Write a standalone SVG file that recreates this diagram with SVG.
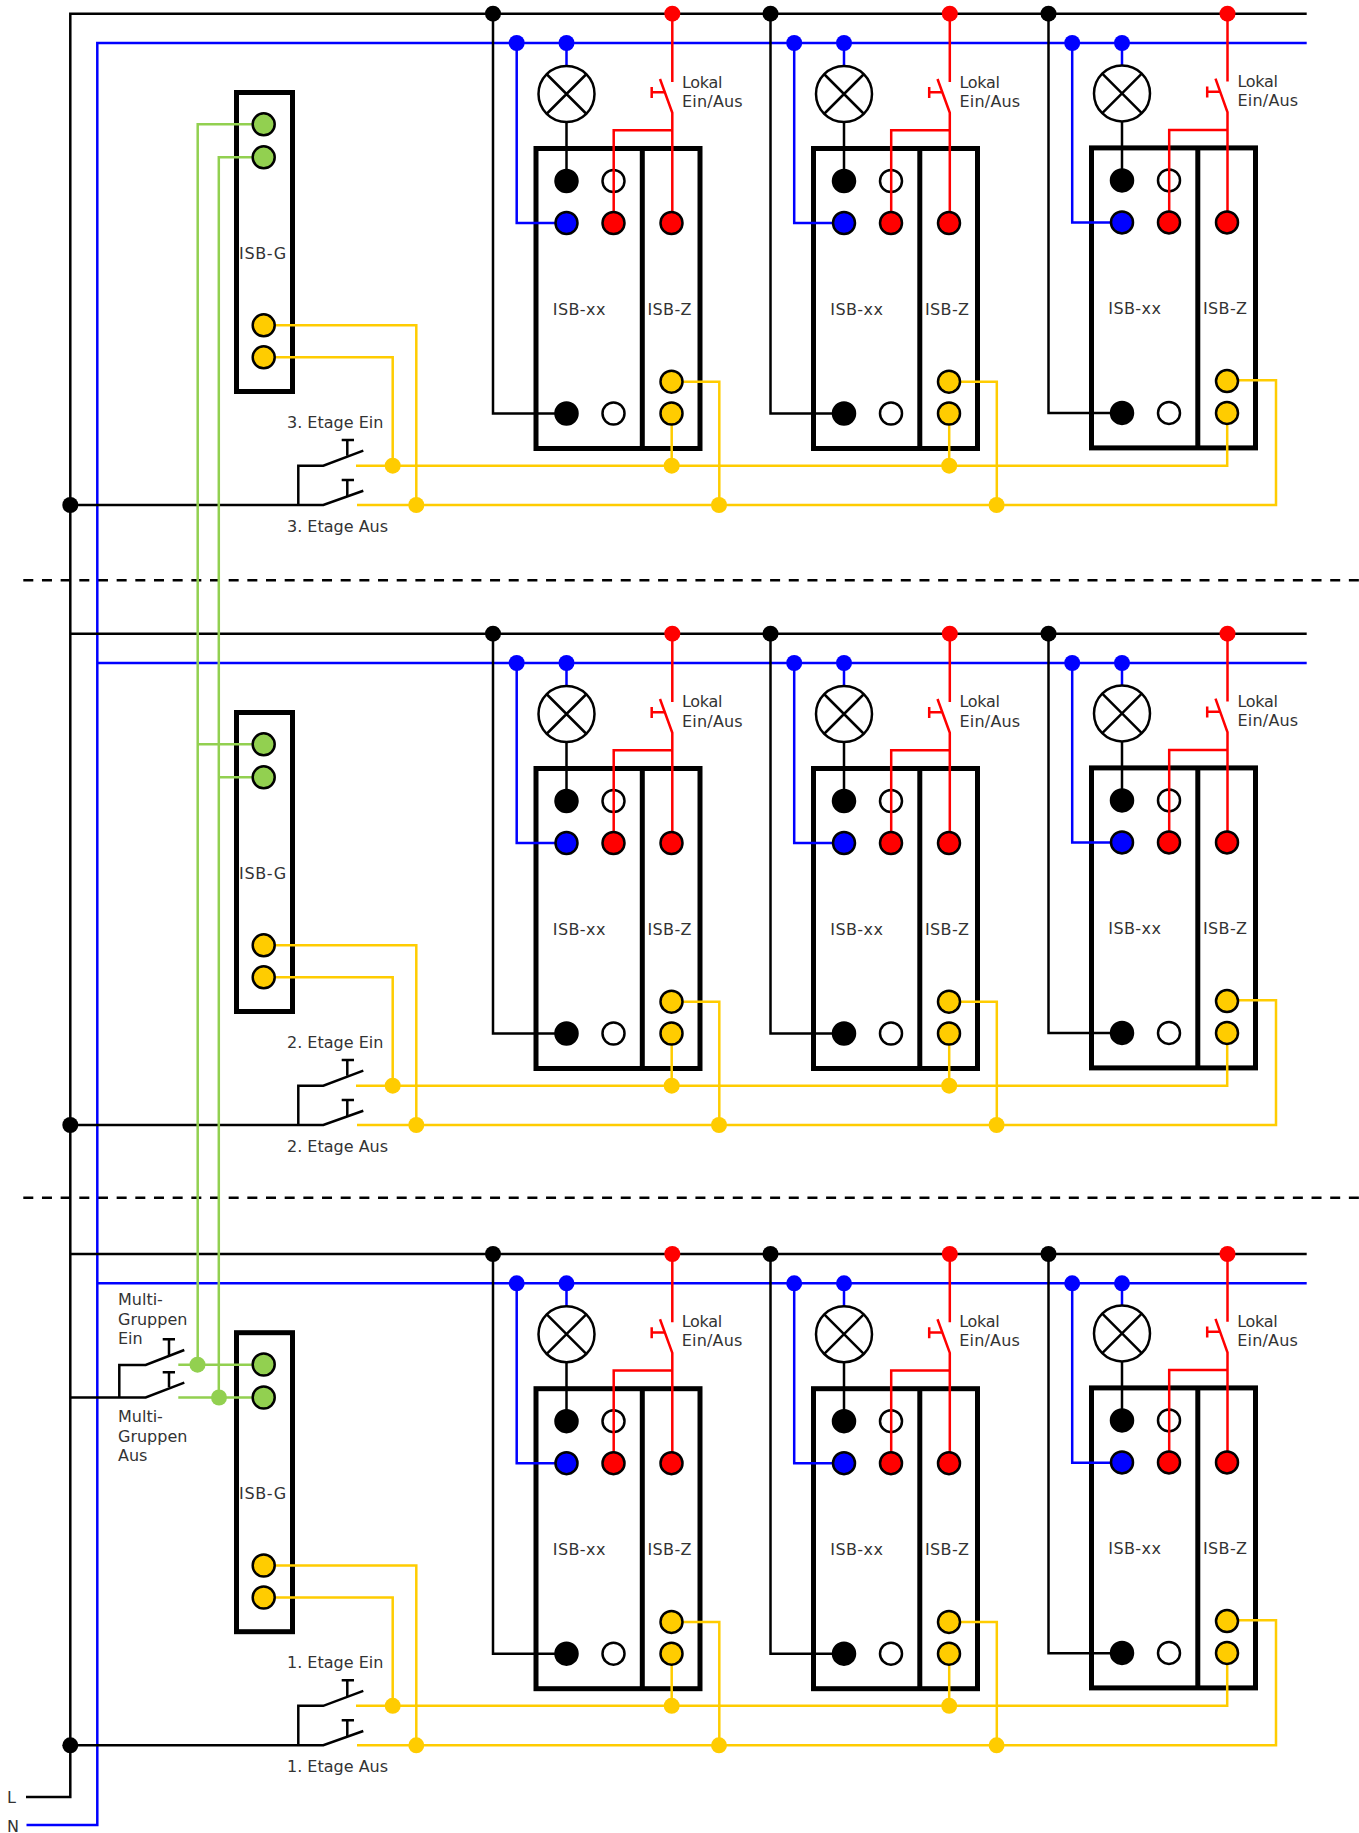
<svg xmlns="http://www.w3.org/2000/svg" width="1359" height="1833" viewBox="0 0 1359 1833">
<style>
text{font-family:"DejaVu Sans",sans-serif;font-size:16px;fill:#333}
.m{text-anchor:middle;letter-spacing:.4px}
.ig{letter-spacing:.65px}
.lo{letter-spacing:-.3px}
.ea{letter-spacing:.2px}
.box{fill:#fff;stroke:#000;stroke-width:5}
.w{fill:none;stroke-width:2.5}
.k{stroke:#000}.b{stroke:#00f}.r{stroke:#f00}.y{stroke:#fc0}.g{stroke:#92d050}
.t{stroke:#000;stroke-width:2.5}
.fk{fill:#000}.fb{fill:#00f}.fr{fill:#f00}.fy{fill:#fc0}.fg{fill:#92d050}.fw{fill:#fff}
.lamp{fill:#fff;stroke:#000;stroke-width:2.5}
.dash{fill:none;stroke:#000;stroke-width:2.5;stroke-dasharray:10 8.67}
</style>
<g id="modules">
<g id="isbg-1" transform="translate(0,0)"><rect class="box" x="236.5" y="92.5" width="56" height="299"/><text class="m ig" x="263" y="259">ISB-G</text></g>
<g id="isbg-2" transform="translate(0,620)"><rect class="box" x="236.5" y="92.5" width="56" height="299"/><text class="m ig" x="263" y="259">ISB-G</text></g>
<g id="isbg-3" transform="translate(0,1240.2)"><rect class="box" x="236.5" y="92.5" width="56" height="299"/><text class="m ig" x="263" y="259">ISB-G</text></g>
<g id="isb-r1c1" transform="translate(0,0)"><rect class="box" x="536" y="148.5" width="164" height="300"/><path class="box" d="M642.3 148.5V448.5"/><text class="m" x="579.3" y="315">ISB-xx</text><text class="m" x="669.7" y="315">ISB-Z</text><circle class="t fw" cx="613.5" cy="181" r="11"/><circle class="t fw" cx="613.5" cy="413.5" r="11"/></g>
<g id="isb-r1c2" transform="translate(277.5,0)"><rect class="box" x="536" y="148.5" width="164" height="300"/><path class="box" d="M642.3 148.5V448.5"/><text class="m" x="579.3" y="315">ISB-xx</text><text class="m" x="669.7" y="315">ISB-Z</text><circle class="t fw" cx="613.5" cy="181" r="11"/><circle class="t fw" cx="613.5" cy="413.5" r="11"/></g>
<g id="isb-r1c3" transform="translate(555.5,-0.6)"><rect class="box" x="536" y="148.5" width="164" height="300"/><path class="box" d="M642.3 148.5V448.5"/><text class="m" x="579.3" y="315">ISB-xx</text><text class="m" x="669.7" y="315">ISB-Z</text><circle class="t fw" cx="613.5" cy="181" r="11"/><circle class="t fw" cx="613.5" cy="413.5" r="11"/></g>
<g id="isb-r2c1" transform="translate(0,620)"><rect class="box" x="536" y="148.5" width="164" height="300"/><path class="box" d="M642.3 148.5V448.5"/><text class="m" x="579.3" y="315">ISB-xx</text><text class="m" x="669.7" y="315">ISB-Z</text><circle class="t fw" cx="613.5" cy="181" r="11"/><circle class="t fw" cx="613.5" cy="413.5" r="11"/></g>
<g id="isb-r2c2" transform="translate(277.5,620)"><rect class="box" x="536" y="148.5" width="164" height="300"/><path class="box" d="M642.3 148.5V448.5"/><text class="m" x="579.3" y="315">ISB-xx</text><text class="m" x="669.7" y="315">ISB-Z</text><circle class="t fw" cx="613.5" cy="181" r="11"/><circle class="t fw" cx="613.5" cy="413.5" r="11"/></g>
<g id="isb-r2c3" transform="translate(555.5,619.4)"><rect class="box" x="536" y="148.5" width="164" height="300"/><path class="box" d="M642.3 148.5V448.5"/><text class="m" x="579.3" y="315">ISB-xx</text><text class="m" x="669.7" y="315">ISB-Z</text><circle class="t fw" cx="613.5" cy="181" r="11"/><circle class="t fw" cx="613.5" cy="413.5" r="11"/></g>
<g id="isb-r3c1" transform="translate(0,1240.2)"><rect class="box" x="536" y="148.5" width="164" height="300"/><path class="box" d="M642.3 148.5V448.5"/><text class="m" x="579.3" y="315">ISB-xx</text><text class="m" x="669.7" y="315">ISB-Z</text><circle class="t fw" cx="613.5" cy="181" r="11"/><circle class="t fw" cx="613.5" cy="413.5" r="11"/></g>
<g id="isb-r3c2" transform="translate(277.5,1240.2)"><rect class="box" x="536" y="148.5" width="164" height="300"/><path class="box" d="M642.3 148.5V448.5"/><text class="m" x="579.3" y="315">ISB-xx</text><text class="m" x="669.7" y="315">ISB-Z</text><circle class="t fw" cx="613.5" cy="181" r="11"/><circle class="t fw" cx="613.5" cy="413.5" r="11"/></g>
<g id="isb-r3c3" transform="translate(555.5,1239.4)"><rect class="box" x="536" y="148.5" width="164" height="300"/><path class="box" d="M642.3 148.5V448.5"/><text class="m" x="579.3" y="315">ISB-xx</text><text class="m" x="669.7" y="315">ISB-Z</text><circle class="t fw" cx="613.5" cy="181" r="11"/><circle class="t fw" cx="613.5" cy="413.5" r="11"/></g>
</g>
<g id="separators"><path class="dash" d="M23.3 580.3H1359"/><path class="dash" d="M23.3 1197.7H1359"/></g>
<g id="connectors">
<path class="w b" d="M26.5 1825H97.3V43H1306.7M97.3 663H1306.7M97.3 1283.3H1306.7"/>
<path class="w k" d="M26 1797H70.3V13.7H1306.7M70.3 633.7H1306.7M70.3 1254H1306.7M70.3 505H323.3L363.3 490.7M298.3 505V465.7H323.3L363.3 450.7M70.3 1125H323.3L363.3 1110.7M298.3 1125V1085.7H323.3L363.3 1070.7M70.3 1745.3H323.3L363.3 1731M298.3 1745.3V1705.8H323.3L363.3 1690.8M70.3 1397.5H145.7L184.3 1382.7M119.3 1397.5V1365H145.7L184.3 1350"/>
<g id="wires-r1c1"><path class="w k" d="M493 13.7V413.5H566.5M566.5 122V181"/><path class="w b" d="M516.7 43V223H566.5M566.5 43V66"/><path class="w r" d="M672.3 13.7V82M660 79L672.3 112.7V223M672.3 130.3H613.7V223"/><path class="w y" d="M671.7 413.5V465.7M671.7 381.7H719.3V505"/></g>
<g id="wires-r1c2" transform="translate(277.5,0)"><path class="w k" d="M493 13.7V413.5H566.5M566.5 122V181"/><path class="w b" d="M516.7 43V223H566.5M566.5 43V66"/><path class="w r" d="M672.3 13.7V82M660 79L672.3 112.7V223M672.3 130.3H613.7V223"/><path class="w y" d="M671.7 413.5V465.7M671.7 381.7H719.3V505"/></g>
<g id="wires-r1c3" transform="translate(555.5,-0.4)"><path class="w k" d="M493 14.1V413.5H566.5M566.5 122V181"/><path class="w b" d="M516.7 43.4V223H566.5M566.5 43.4V66"/><path class="w r" d="M672 14.1V82M660 79L672 112.7V223M672 130.3H613.7V223"/></g>
<g id="wires-r2c1" transform="translate(0,620)"><path class="w k" d="M493 13.7V413.5H566.5M566.5 122V181"/><path class="w b" d="M516.7 43V223H566.5M566.5 43V66"/><path class="w r" d="M672.3 13.7V82M660 79L672.3 112.7V223M672.3 130.3H613.7V223"/><path class="w y" d="M671.7 413.5V465.7M671.7 381.7H719.3V505"/></g>
<g id="wires-r2c2" transform="translate(277.5,620)"><path class="w k" d="M493 13.7V413.5H566.5M566.5 122V181"/><path class="w b" d="M516.7 43V223H566.5M566.5 43V66"/><path class="w r" d="M672.3 13.7V82M660 79L672.3 112.7V223M672.3 130.3H613.7V223"/><path class="w y" d="M671.7 413.5V465.7M671.7 381.7H719.3V505"/></g>
<g id="wires-r2c3" transform="translate(555.5,619.6)"><path class="w k" d="M493 14.1V413.5H566.5M566.5 122V181"/><path class="w b" d="M516.7 43.4V223H566.5M566.5 43.4V66"/><path class="w r" d="M672 14.1V82M660 79L672 112.7V223M672 130.3H613.7V223"/></g>
<g id="wires-r3c1" transform="translate(0,1240.2)"><path class="w k" d="M493 13.7V413.5H566.5M566.5 122V181"/><path class="w b" d="M516.7 43V223H566.5M566.5 43V66"/><path class="w r" d="M672.3 13.7V82M660 79L672.3 112.7V223M672.3 130.3H613.7V223"/><path class="w y" d="M671.7 413.5V465.7M671.7 381.7H719.3V505"/></g>
<g id="wires-r3c2" transform="translate(277.5,1240.2)"><path class="w k" d="M493 13.7V413.5H566.5M566.5 122V181"/><path class="w b" d="M516.7 43V223H566.5M566.5 43V66"/><path class="w r" d="M672.3 13.7V82M660 79L672.3 112.7V223M672.3 130.3H613.7V223"/><path class="w y" d="M671.7 413.5V465.7M671.7 381.7H719.3V505"/></g>
<g id="wires-r3c3" transform="translate(555.5,1239.8)"><path class="w k" d="M493 14.1V413.5H566.5M566.5 122V181"/><path class="w b" d="M516.7 43.4V223H566.5M566.5 43.4V66"/><path class="w r" d="M672 14.1V82M660 79L672 112.7V223M672 130.3H613.7V223"/></g>
<path class="w y" d="M263.7 325.3H416.3V505M263.7 357.3H392.7V465.7M356 465.7H1227.2V413M357 505H1276V380.3H1226.7"/>
<path class="w y" d="M263.7 945.3H416.3V1125M263.7 977.3H392.7V1085.7M356 1085.7H1227.2V1033M357 1125H1276V1000.3H1226.7"/>
<path class="w y" d="M263.7 1565.5H416.3V1745.3M263.7 1597.5H392.7V1705.8M356 1705.8H1227.2V1653M357 1745.3H1276V1620.3H1226.7"/>
<path class="w g" d="M263.7 124.3H197.7V1364.7M263.7 157.3H218.8V1397.5M197.7 744.3H263.7M218.8 777.3H263.7M178.3 1364.7H263.7M178.3 1397.5H263.7"/>
<g id="junctions">
<g class="fk"><circle cx="70.3" cy="505" r="8"/><circle cx="70.3" cy="1125" r="8"/><circle cx="70.3" cy="1745.3" r="8"/>
<circle cx="493" cy="13.7" r="8"/><circle cx="770.5" cy="13.7" r="8"/><circle cx="1048.5" cy="13.7" r="8"/><circle cx="493" cy="633.7" r="8"/><circle cx="770.5" cy="633.7" r="8"/><circle cx="1048.5" cy="633.7" r="8"/><circle cx="493" cy="1254" r="8"/><circle cx="770.5" cy="1254" r="8"/><circle cx="1048.5" cy="1254" r="8"/></g>
<g class="fr"><circle cx="672.3" cy="13.7" r="8"/><circle cx="949.8" cy="13.7" r="8"/><circle cx="1227.5" cy="13.7" r="8"/><circle cx="672.3" cy="633.7" r="8"/><circle cx="949.8" cy="633.7" r="8"/><circle cx="1227.5" cy="633.7" r="8"/><circle cx="672.3" cy="1254" r="8"/><circle cx="949.8" cy="1254" r="8"/><circle cx="1227.5" cy="1254" r="8"/></g>
<g class="fb"><circle cx="516.7" cy="43" r="8"/><circle cx="566.5" cy="43" r="8"/><circle cx="794.2" cy="43" r="8"/><circle cx="844" cy="43" r="8"/><circle cx="1072.2" cy="43" r="8"/><circle cx="1122" cy="43" r="8"/><circle cx="516.7" cy="663" r="8"/><circle cx="566.5" cy="663" r="8"/><circle cx="794.2" cy="663" r="8"/><circle cx="844" cy="663" r="8"/><circle cx="1072.2" cy="663" r="8"/><circle cx="1122" cy="663" r="8"/><circle cx="516.7" cy="1283.3" r="8"/><circle cx="566.5" cy="1283.3" r="8"/><circle cx="794.2" cy="1283.3" r="8"/><circle cx="844" cy="1283.3" r="8"/><circle cx="1072.2" cy="1283.3" r="8"/><circle cx="1122" cy="1283.3" r="8"/></g>
<g class="fy"><circle cx="392.7" cy="465.7" r="8"/><circle cx="416.3" cy="505" r="8"/><circle cx="671.7" cy="465.7" r="8"/><circle cx="719" cy="505" r="8"/><circle cx="949.2" cy="465.7" r="8"/><circle cx="996.6" cy="505" r="8"/>
<circle cx="392.7" cy="1085.7" r="8"/><circle cx="416.3" cy="1125" r="8"/><circle cx="671.7" cy="1085.7" r="8"/><circle cx="719" cy="1125" r="8"/><circle cx="949.2" cy="1085.7" r="8"/><circle cx="996.6" cy="1125" r="8"/>
<circle cx="392.7" cy="1705.8" r="8"/><circle cx="416.3" cy="1745.3" r="8"/><circle cx="671.7" cy="1705.8" r="8"/><circle cx="719" cy="1745.3" r="8"/><circle cx="949.2" cy="1705.8" r="8"/><circle cx="996.6" cy="1745.3" r="8"/></g>
<g class="fg"><circle cx="197.5" cy="1364.7" r="8"/><circle cx="219" cy="1397.5" r="8"/></g>
</g>
</g>
<g id="isbg-terminals-1"><circle class="t fg" cx="263.7" cy="124.3" r="11"/><circle class="t fg" cx="263.7" cy="157.3" r="11"/><circle class="t fy" cx="263.7" cy="325.3" r="11"/><circle class="t fy" cx="263.7" cy="357.3" r="11"/></g>
<g id="isbg-terminals-2" transform="translate(0,620)"><circle class="t fg" cx="263.7" cy="124.3" r="11"/><circle class="t fg" cx="263.7" cy="157.3" r="11"/><circle class="t fy" cx="263.7" cy="325.3" r="11"/><circle class="t fy" cx="263.7" cy="357.3" r="11"/></g>
<g id="isbg-terminals-3" transform="translate(0,1240.2)"><circle class="t fg" cx="263.7" cy="124.3" r="11"/><circle class="t fg" cx="263.7" cy="157.3" r="11"/><circle class="t fy" cx="263.7" cy="325.3" r="11"/><circle class="t fy" cx="263.7" cy="357.3" r="11"/></g>
<g id="cell-r1c1"><g class="lamp"><circle cx="566.5" cy="94" r="28"/><path d="M546.5 74L586.5 114M586.5 74L546.5 114"/></g><circle class="t fk" cx="566.5" cy="181" r="11"/><circle class="t fb" cx="566.5" cy="223" r="11"/><circle class="t fr" cx="613.5" cy="223" r="11"/><circle class="t fr" cx="671.5" cy="223" r="11"/><circle class="t fy" cx="671.5" cy="381.7" r="11"/><circle class="t fy" cx="671.5" cy="413.5" r="11"/><circle class="t fk" cx="566.5" cy="413.5" r="11"/><path class="w r" d="M651.7 87V98M651.7 92.3H665"/><text class="lo" x="682" y="88">Lokal</text><text class="ea" x="682" y="107">Ein/Aus</text></g>
<g id="cell-r1c2" transform="translate(277.5,0)"><g class="lamp"><circle cx="566.5" cy="94" r="28"/><path d="M546.5 74L586.5 114M586.5 74L546.5 114"/></g><circle class="t fk" cx="566.5" cy="181" r="11"/><circle class="t fb" cx="566.5" cy="223" r="11"/><circle class="t fr" cx="613.5" cy="223" r="11"/><circle class="t fr" cx="671.5" cy="223" r="11"/><circle class="t fy" cx="671.5" cy="381.7" r="11"/><circle class="t fy" cx="671.5" cy="413.5" r="11"/><circle class="t fk" cx="566.5" cy="413.5" r="11"/><path class="w r" d="M651.7 87V98M651.7 92.3H665"/><text class="lo" x="682" y="88">Lokal</text><text class="ea" x="682" y="107">Ein/Aus</text></g>
<g id="cell-r1c3" transform="translate(555.5,-0.6)"><g class="lamp"><circle cx="566.5" cy="94" r="28"/><path d="M546.5 74L586.5 114M586.5 74L546.5 114"/></g><circle class="t fk" cx="566.5" cy="181" r="11"/><circle class="t fb" cx="566.5" cy="223" r="11"/><circle class="t fr" cx="613.5" cy="223" r="11"/><circle class="t fr" cx="671.5" cy="223" r="11"/><circle class="t fy" cx="671.5" cy="381.7" r="11"/><circle class="t fy" cx="671.5" cy="413.5" r="11"/><circle class="t fk" cx="566.5" cy="413.5" r="11"/><path class="w r" d="M651.7 87V98M651.7 92.3H665"/><text class="lo" x="682" y="88">Lokal</text><text class="ea" x="682" y="107">Ein/Aus</text></g>
<g id="cell-r2c1" transform="translate(0,620)"><g class="lamp"><circle cx="566.5" cy="94" r="28"/><path d="M546.5 74L586.5 114M586.5 74L546.5 114"/></g><circle class="t fk" cx="566.5" cy="181" r="11"/><circle class="t fb" cx="566.5" cy="223" r="11"/><circle class="t fr" cx="613.5" cy="223" r="11"/><circle class="t fr" cx="671.5" cy="223" r="11"/><circle class="t fy" cx="671.5" cy="381.7" r="11"/><circle class="t fy" cx="671.5" cy="413.5" r="11"/><circle class="t fk" cx="566.5" cy="413.5" r="11"/><path class="w r" d="M651.7 87V98M651.7 92.3H665"/><text class="lo" x="682" y="87.3">Lokal</text><text class="ea" x="682" y="107">Ein/Aus</text></g>
<g id="cell-r2c2" transform="translate(277.5,620)"><g class="lamp"><circle cx="566.5" cy="94" r="28"/><path d="M546.5 74L586.5 114M586.5 74L546.5 114"/></g><circle class="t fk" cx="566.5" cy="181" r="11"/><circle class="t fb" cx="566.5" cy="223" r="11"/><circle class="t fr" cx="613.5" cy="223" r="11"/><circle class="t fr" cx="671.5" cy="223" r="11"/><circle class="t fy" cx="671.5" cy="381.7" r="11"/><circle class="t fy" cx="671.5" cy="413.5" r="11"/><circle class="t fk" cx="566.5" cy="413.5" r="11"/><path class="w r" d="M651.7 87V98M651.7 92.3H665"/><text class="lo" x="682" y="87.3">Lokal</text><text class="ea" x="682" y="107">Ein/Aus</text></g>
<g id="cell-r2c3" transform="translate(555.5,619.4)"><g class="lamp"><circle cx="566.5" cy="94" r="28"/><path d="M546.5 74L586.5 114M586.5 74L546.5 114"/></g><circle class="t fk" cx="566.5" cy="181" r="11"/><circle class="t fb" cx="566.5" cy="223" r="11"/><circle class="t fr" cx="613.5" cy="223" r="11"/><circle class="t fr" cx="671.5" cy="223" r="11"/><circle class="t fy" cx="671.5" cy="381.7" r="11"/><circle class="t fy" cx="671.5" cy="413.5" r="11"/><circle class="t fk" cx="566.5" cy="413.5" r="11"/><path class="w r" d="M651.7 87V98M651.7 92.3H665"/><text class="lo" x="682" y="87.3">Lokal</text><text class="ea" x="682" y="107">Ein/Aus</text></g>
<g id="cell-r3c1" transform="translate(0,1240.2)"><g class="lamp"><circle cx="566.5" cy="94" r="28"/><path d="M546.5 74L586.5 114M586.5 74L546.5 114"/></g><circle class="t fk" cx="566.5" cy="181" r="11"/><circle class="t fb" cx="566.5" cy="223" r="11"/><circle class="t fr" cx="613.5" cy="223" r="11"/><circle class="t fr" cx="671.5" cy="223" r="11"/><circle class="t fy" cx="671.5" cy="381.7" r="11"/><circle class="t fy" cx="671.5" cy="413.5" r="11"/><circle class="t fk" cx="566.5" cy="413.5" r="11"/><path class="w r" d="M651.7 87V98M651.7 92.3H665"/><text class="lo" x="681.7" y="87.2">Lokal</text><text class="ea" x="681.7" y="106">Ein/Aus</text></g>
<g id="cell-r3c2" transform="translate(277.5,1240.2)"><g class="lamp"><circle cx="566.5" cy="94" r="28"/><path d="M546.5 74L586.5 114M586.5 74L546.5 114"/></g><circle class="t fk" cx="566.5" cy="181" r="11"/><circle class="t fb" cx="566.5" cy="223" r="11"/><circle class="t fr" cx="613.5" cy="223" r="11"/><circle class="t fr" cx="671.5" cy="223" r="11"/><circle class="t fy" cx="671.5" cy="381.7" r="11"/><circle class="t fy" cx="671.5" cy="413.5" r="11"/><circle class="t fk" cx="566.5" cy="413.5" r="11"/><path class="w r" d="M651.7 87V98M651.7 92.3H665"/><text class="lo" x="681.7" y="87.2">Lokal</text><text class="ea" x="681.7" y="106">Ein/Aus</text></g>
<g id="cell-r3c3" transform="translate(555.5,1239.4)"><g class="lamp"><circle cx="566.5" cy="94" r="28"/><path d="M546.5 74L586.5 114M586.5 74L546.5 114"/></g><circle class="t fk" cx="566.5" cy="181" r="11"/><circle class="t fb" cx="566.5" cy="223" r="11"/><circle class="t fr" cx="613.5" cy="223" r="11"/><circle class="t fr" cx="671.5" cy="223" r="11"/><circle class="t fy" cx="671.5" cy="381.7" r="11"/><circle class="t fy" cx="671.5" cy="413.5" r="11"/><circle class="t fk" cx="566.5" cy="413.5" r="11"/><path class="w r" d="M651.7 87V98M651.7 92.3H665"/><text class="lo" x="681.7" y="87.6">Lokal</text><text class="ea" x="681.7" y="106.6">Ein/Aus</text></g>
<g id="switch-3"><path class="w k" d="M347.3 455.7V440M341.7 440H354M347.3 496V480M341.7 480H354"/><text x="287" y="428">3. Etage Ein</text><text x="287" y="532">3. Etage Aus</text></g>
<g id="switch-2" transform="translate(0,620)"><path class="w k" d="M347.3 455.7V440M341.7 440H354M347.3 496V480M341.7 480H354"/><text x="287" y="428">2. Etage Ein</text><text x="287" y="532">2. Etage Aus</text></g>
<g id="switch-1" transform="translate(0,1240.2)"><path class="w k" d="M347.3 455.7V440M341.7 440H354M347.3 496V480M341.7 480H354"/><text x="287" y="428">1. Etage Ein</text><text x="287" y="532">1. Etage Aus</text></g>
<g id="switch-multi"><path class="w k" d="M169 1356V1339.3M162.7 1339.3H175M169 1387.3V1372.3M162.7 1372.3H175"/><text x="118" y="1305">Multi-</text><text x="118" y="1325">Gruppen</text><text x="118" y="1344">Ein</text><text x="118" y="1421.7">Multi-</text><text x="118" y="1441.7">Gruppen</text><text x="118" y="1460.7">Aus</text></g>
<g id="supply-labels"><text x="7" y="1803">L</text><text x="7" y="1832.4">N</text></g>
</svg>
